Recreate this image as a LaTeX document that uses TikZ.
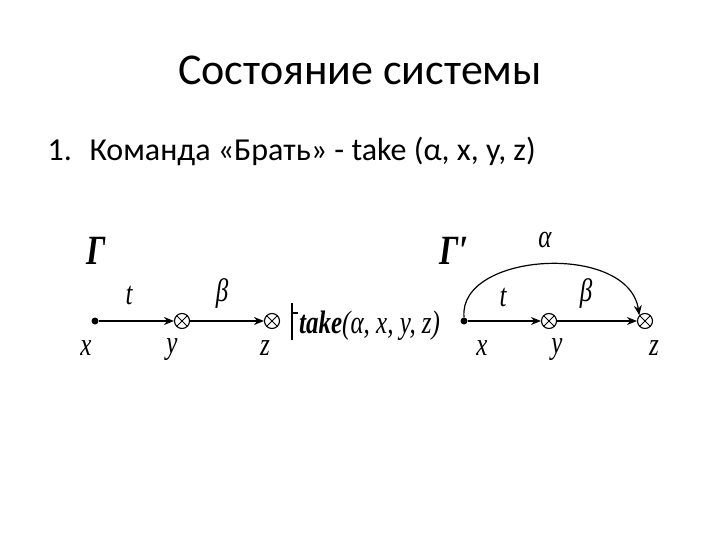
\documentclass[tikz,border=0pt]{standalone}
\usepackage{fontspec}
\setmainfont{Carlito}
\newfontfamily\mathserif{Liberation Serif}
\usetikzlibrary{arrows.meta}
\newcommand{\tall}[1]{\scalebox{1}[1.3]{#1}}
\tikzset{
  px/.style={x=1pt,y=-1pt},
  lbl/.style={font=\mathserif\itshape\fontsize{25}{27}\selectfont, inner sep=0pt},
  gam/.style={font=\mathserif\bfseries\itshape\fontsize{32}{34}\selectfont, inner sep=0pt},
  edge/.style={draw, line width=1.2pt, -{Stealth[length=10pt,width=8pt]}},
  cross/.style={draw, circle, line width=1.1pt, minimum size=15pt, inner sep=0pt,
    path picture={\draw[line width=1pt] (path picture bounding box.north west) -- (path picture bounding box.south east)
      (path picture bounding box.north east) -- (path picture bounding box.south west);}},
  pt/.style={circle, fill, minimum size=7pt, inner sep=0pt}
}
\begin{document}
\begin{tikzpicture}[px]
\useasboundingbox (0,0) rectangle (720,540);
\node (title) at (360,70) {\fontsize{44}{48}\selectfont Состояние системы};
\node[anchor=base west] (num) at (44,161) {\fontsize{32}{36}\selectfont 1.};
\node[anchor=base west] (item) at (86,161) {\fontsize{32}{36}\selectfont Команда «Брать» - take (α, x, y, z)};
% left graph
\node[gam] (g1) at (96,251) {\tall{Γ}};
\node[pt] (x1) at (95,321) {};
\node[cross] (y1) at (182,321) {};
\node[cross] (z1) at (272,321) {};
\draw[edge] (x1) -- (y1);
\draw[edge] (y1) -- (z1);
\node[lbl] (t1) at (129,296) {\tall{t}};
\node[lbl] (b1) at (222,294) {\tall{β}};
\node[lbl] (lx1) at (86,348) {\tall{x}};
\node[lbl] (ly1) at (172,350) {\tall{y}};
\node[lbl] (lz1) at (265,348) {\tall{z}};
\draw[line width=1.3pt] (292,303) -- (292,340);
\draw[line width=1.3pt] (292,313) -- (298,313);
\node[lbl, anchor=base west] (take) at (299,333) {\tall{\bfseries take\mdseries(α, x, y, z)}};
% right graph
\node[gam] (g2) at (454,251) {\tall{Γ′}};
\node[pt] (x2) at (464,321) {};
\node[cross] (y2) at (549,321) {};
\node[cross] (z2) at (645,321) {};
\draw[edge] (x2) -- (y2);
\draw[edge] (y2) -- (z2);
\node[lbl] (t2) at (503,298) {\tall{t}};
\node[lbl] (b2) at (586,294) {\tall{β}};
\draw[edge] (x2.north) .. controls (458,252) and (628,242) .. (z2.north west);
\node[lbl] (a2) at (545,240) {\tall{α}};
\node[lbl] (lx2) at (482,348) {\tall{x}};
\node[lbl] (ly2) at (557,350) {\tall{y}};
\node[lbl] (lz2) at (654,348) {\tall{z}};
\end{tikzpicture}
\end{document}
